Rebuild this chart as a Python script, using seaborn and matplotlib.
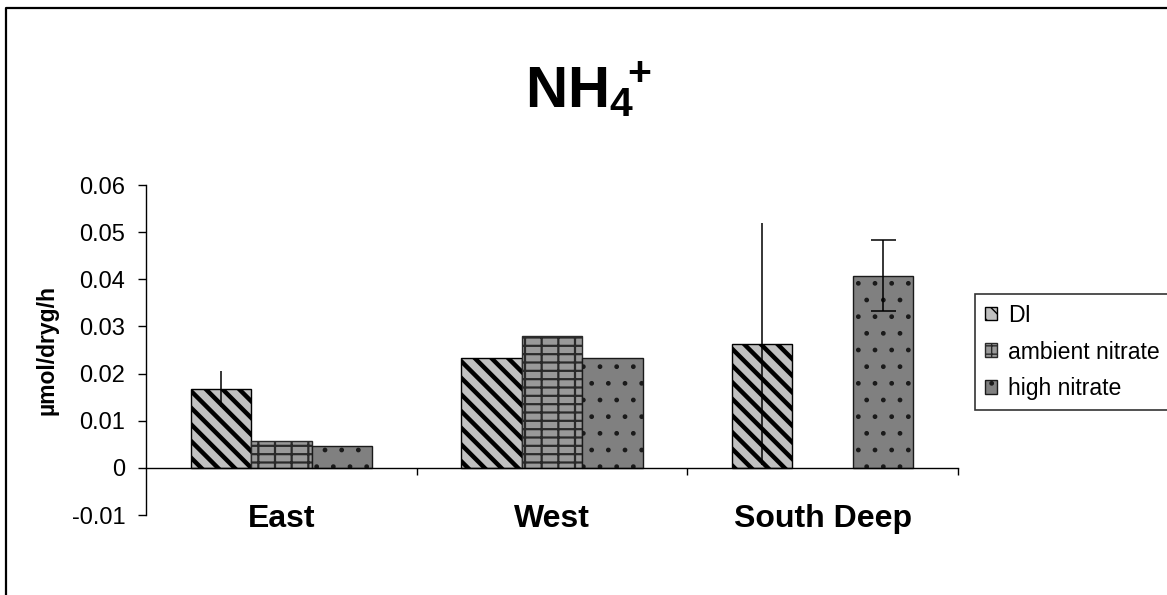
import numpy as np
import pandas as pd
import matplotlib
matplotlib.use("Agg")
import matplotlib.pyplot as plt
import seaborn as sns
from matplotlib.patches import Patch
from matplotlib.lines import Line2D
from matplotlib.ticker import FuncFormatter

# ---- data ----
sites = ["East", "West", "South Deep"]
treatments = ["DI", "ambient nitrate", "high nitrate"]
di_vals = [0.0167, 0.0234, 0.0263]
ambient_vals = [0.0056, 0.0279, np.nan]
high_vals = [0.0047, 0.0234, 0.0408]
di_err = [0.0038, 0.0, 0.0257]
ambient_err = [0.0, 0.0, 0.0]
high_err = [0.0, 0.0, 0.0075]
y_ticks = [-0.01, 0.0, 0.01, 0.02, 0.03, 0.04, 0.05, 0.06]

values = {"DI": di_vals, "ambient nitrate": ambient_vals, "high nitrate": high_vals}
errors = {"DI": di_err, "ambient nitrate": ambient_err, "high nitrate": high_err}

rows = []
for t in treatments:
    for s, v in zip(sites, values[t]):
        if not np.isnan(v):
            rows.append({"site": s, "treatment": t, "value": v})
df = pd.DataFrame(rows)

# ---- styles ----
sns.set_theme(style="white")
plt.rcParams["font.family"] = ["Liberation Sans", "DejaVu Sans"]
plt.rcParams["mathtext.fontset"] = "custom"
plt.rcParams["mathtext.rm"] = "Liberation Sans"
plt.rcParams["mathtext.bf"] = "Liberation Sans:bold"
for k in ("text.color", "axes.labelcolor", "xtick.color", "ytick.color", "axes.edgecolor"):
    plt.rcParams[k] = "black"

styles = {
    "DI": dict(face="#C0C0C0", edge="#000000", hatch="\\\\", hlw=3.2),
    "ambient nitrate": dict(face="#999999", edge="#2a2a2a", hatch="--|", hlw=1.6),
    "high nitrate": dict(face="#808080", edge="#1a1a1a", hatch=".", hlw=1.0),
}

fig = plt.figure(figsize=(11.67, 5.95), dpi=100)
fig.patch.set_facecolor("white")
ax = fig.add_axes([146 / 1167, 1 - 515 / 595, (958 - 146) / 1167, (515 - 185) / 595])

sns.barplot(
    data=df, x="site", y="value", hue="treatment",
    order=sites, hue_order=treatments,
    width=0.67, errorbar=None, legend=False,
    palette={t: styles[t]["face"] for t in treatments},
    linewidth=1.0, ax=ax,
)

for cont, t in zip(ax.containers, treatments):
    st = styles[t]
    present = [s for s, v in zip(sites, values[t]) if not np.isnan(v)]
    errs = [e for e, v in zip(errors[t], values[t]) if not np.isnan(v)]
    for bar, s, e in zip(cont, present, errs):
        bar.set_facecolor(st["face"])
        bar.set_edgecolor(st["edge"])
        bar.set_linewidth(1.0)
        bar.set_hatch(st["hatch"])
        if hasattr(bar, "set_hatch_linewidth"):
            bar.set_hatch_linewidth(st["hlw"])
        if e > 0:
            xc = bar.get_x() + bar.get_width() / 2
            ax.errorbar(xc, bar.get_height(), yerr=e, fmt="none",
                        ecolor="black", elinewidth=1.1,
                        capsize=(9 if t == "high nitrate" else 0),
                        capthick=1.1, zorder=5)

# ---- axes ----
ax.set_xlim(-0.5, 2.5)
ax.set_ylim(-0.01, 0.06)
ax.set_yticks(y_ticks)
ax.yaxis.set_major_formatter(FuncFormatter(lambda v, p: "0" if abs(v) < 1e-9 else f"{v:g}"))
ax.tick_params(axis="y", which="major", direction="out", length=6, width=1.0,
               pad=9, labelsize=17, colors="black", left=True)

ax.spines["top"].set_visible(False)
ax.spines["right"].set_visible(False)
ax.spines["bottom"].set_position(("data", 0))
for sp in ("left", "bottom"):
    ax.spines[sp].set_color("black")
    ax.spines[sp].set_linewidth(1.0)

ax.set_xticks([0.5, 1.5, 2.5])
ax.set_xticklabels(["", "", ""])
ax.set_xticks([0, 1, 2], minor=True)
ax.set_xticklabels(sites, minor=True, fontsize=23, fontweight="bold")
ax.tick_params(axis="x", which="major", direction="out", length=5, width=1.0, bottom=True)
ax.tick_params(axis="x", which="minor", length=0, pad=26, bottom=True, colors="black")

ax.set_xlabel("")
ax.set_ylabel("µmol/dryg/h", fontsize=16.5, fontweight="bold", color="black")
ax.yaxis.set_label_coords(-0.108, 0.5)
ax.grid(False)

# ---- title ----
fig.text(589 / 1167, 1 - 108 / 595, r"$\mathbf{NH_4}{}^{\!\mathbf{+}}$", fontsize=42,
         ha="center", va="baseline", color="black")

# ---- legend ----
handles = []
for t in treatments:
    st = styles[t]
    p = Patch(facecolor=st["face"], edgecolor=st["edge"], hatch=st["hatch"],
              linewidth=1.0, label=t)
    handles.append(p)
leg = fig.legend(handles=handles, loc="upper left",
                 bbox_to_anchor=(975 / 1167, 1 - 294 / 595), borderaxespad=0,
                 fontsize=16.6, frameon=True, fancybox=False, shadow=False,
                 handlelength=0.55, handleheight=0.55, handletextpad=0.45,
                 borderpad=0.42, labelspacing=0.6)
leg.get_frame().set_edgecolor("black")
leg.get_frame().set_linewidth(1.2)
for txt in leg.get_texts():
    txt.set_color("black")
for h in leg.legend_handles:
    if hasattr(h, "set_hatch_linewidth"):
        h.set_hatch_linewidth(1.0)

# ---- outer frame ----
x0 = 5.5 / 1167
y1 = 1 - 7.5 / 595
fig.add_artist(Line2D([x0, x0, 1.0], [0.0, y1, y1], transform=fig.transFigure,
                      color="black", linewidth=1.6))

fig.savefig("out.png", dpi=100, facecolor="white")
